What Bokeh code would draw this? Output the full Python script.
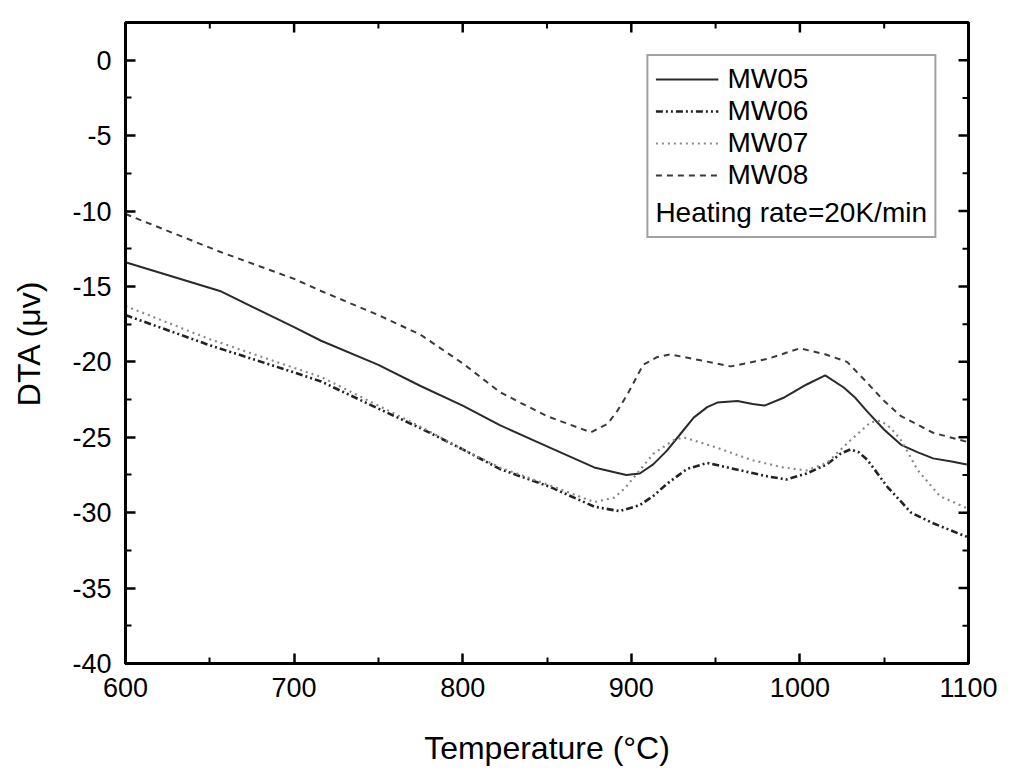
import math
from bokeh.plotting import figure
from bokeh.models import Range1d, FixedTicker, Legend, LegendItem, Label
from bokeh.embed import file_html
from bokeh.resources import INLINE

# ---- data ----
t05 = [600, 656, 700, 716, 750, 775, 800, 822, 852, 878, 897, 905, 913, 921, 929, 937, 945, 951, 963, 972, 979, 990, 1004, 1015, 1026, 1033, 1040, 1050, 1060, 1070, 1079, 1090, 1099]
v05 = [-13.4, -15.3, -17.7, -18.6, -20.2, -21.6, -22.9, -24.2, -25.7, -27.0, -27.5, -27.4, -26.8, -25.9, -24.8, -23.7, -23.0, -22.7, -22.6, -22.8, -22.9, -22.4, -21.5, -20.9, -21.7, -22.4, -23.3, -24.5, -25.5, -26.0, -26.4, -26.6, -26.8]

t06 = [600, 650, 700, 716, 750, 775, 800, 822, 852, 878, 893, 905, 913, 921, 933, 945, 961, 981, 992, 1004, 1016, 1024, 1030, 1035, 1040, 1052, 1066, 1079, 1099]
v06 = [-16.9, -18.9, -20.7, -21.3, -23.1, -24.4, -25.8, -27.1, -28.3, -29.6, -29.9, -29.5, -28.9, -28.1, -27.1, -26.7, -27.1, -27.6, -27.8, -27.4, -26.8, -26.1, -25.8, -26.0, -26.5, -28.3, -30.0, -30.7, -31.6]

t07 = [600, 650, 700, 716, 750, 775, 800, 822, 852, 878, 890, 896, 902, 913, 925, 931, 951, 971, 990, 1004, 1016, 1030, 1042, 1048, 1054, 1060, 1070, 1083, 1099]
v07 = [-16.3, -18.5, -20.4, -21.0, -22.9, -24.3, -25.8, -27.0, -28.2, -29.3, -29.0, -28.4, -27.6, -26.1, -25.2, -25.0, -25.7, -26.5, -27.0, -27.2, -26.7, -25.2, -24.0, -23.9, -24.4, -25.2, -27.2, -28.9, -29.7]

t08 = [600, 656, 700, 716, 750, 775, 800, 822, 834, 850, 876, 886, 892, 898, 907, 915, 923, 941, 959, 981, 1000, 1015, 1028, 1040, 1050, 1060, 1079, 1099]
v08 = [-10.2, -12.7, -14.5, -15.3, -16.9, -18.2, -20.1, -22.0, -22.7, -23.6, -24.67, -24.1, -23.2, -22.1, -20.2, -19.7, -19.5, -19.9, -20.3, -19.8, -19.1, -19.5, -20.0, -21.4, -22.6, -23.6, -24.7, -25.3]

names = ["MW05", "MW06", "MW07", "MW08"]
note = "Heating rate=20K/min"
x_lim = [600, 1100]
y_lim = [-40, 2.5]
x_ticks = [600, 700, 800, 900, 1000, 1100]
x_minor = [650, 750, 850, 950, 1050]
y_ticks = [-40, -35, -30, -25, -20, -15, -10, -5, 0]
y_minor = [-37.5, -32.5, -27.5, -22.5, -17.5, -12.5, -7.5, -2.5]

FONT = "Liberation Sans"

p = figure(width=1022, height=780, output_backend="svg", toolbar_location=None,
           x_range=Range1d(*x_lim), y_range=Range1d(*y_lim),
           min_border_left=125, min_border_right=54, min_border_top=22, min_border_bottom=117)
p.xgrid.visible = False
p.ygrid.visible = False
p.outline_line_color = "black"
p.outline_line_width = 3
p.background_fill_color = "white"
p.border_fill_color = "white"

def style_axis(ax, ticks, minor):
    ax.ticker = FixedTicker(ticks=ticks, minor_ticks=minor)
    ax.axis_line_color = "black"
    ax.axis_line_width = 3
    ax.major_tick_in = 10
    ax.major_tick_out = 0
    ax.minor_tick_in = 6
    ax.minor_tick_out = 0
    ax.major_tick_line_width = 2.5
    ax.minor_tick_line_width = 2
    ax.major_tick_line_color = "black"
    ax.minor_tick_line_color = "black"
    ax.major_label_text_font = FONT
    ax.major_label_text_font_size = "27px"
    ax.major_label_text_color = "black"
    ax.major_label_standoff = 14
    ax.major_label_overrides = {t: str(t) for t in ticks}
    ax.axis_label_text_font = FONT
    ax.axis_label_text_font_size = "32px"
    ax.axis_label_text_font_style = "normal"
    ax.axis_label_text_color = "black"

xa = p.xaxis[0]
ya = p.yaxis[0]
style_axis(xa, x_ticks, x_minor)
style_axis(ya, y_ticks, y_minor)
xa.axis_label = "Temperature (°C)"
ya.axis_label = "DTA (μv)"
xa.axis_label_standoff = 30
ya.axis_label_standoff = 22

# mirrored inward ticks on the top and right edges of the frame
p.ray(x=x_ticks, y=[y_lim[1]] * len(x_ticks), length=10, length_units="screen",
      angle=-math.pi / 2, line_color="black", line_width=2.5)
p.ray(x=x_minor, y=[y_lim[1]] * len(x_minor), length=6, length_units="screen",
      angle=-math.pi / 2, line_color="black", line_width=2)
p.ray(x=[x_lim[1]] * len(y_ticks), y=y_ticks, length=10, length_units="screen",
      angle=math.pi, line_color="black", line_width=2.5)
p.ray(x=[x_lim[1]] * len(y_minor), y=y_minor, length=6, length_units="screen",
      angle=math.pi, line_color="black", line_width=2)

r05 = p.line(t05, v05, line_color="#2a2a2a", line_width=2)
r06 = p.line(t06, v06, line_color="#222222", line_width=2.6, line_dash="7 3 2 3 2 3")
r07 = p.line(t07, v07, line_color="#8a8a8a", line_width=2.2, line_dash="2 4")
r08 = p.line(t08, v08, line_color="#3a3a3a", line_width=2, line_dash="6 5")

legend = Legend(items=[LegendItem(label=n, renderers=[r]) for n, r in zip(names, [r05, r06, r07, r08])])
legend.location = "top_right"
legend.margin = 32
legend.padding = 7
legend.spacing = 0
legend.glyph_width = 63
legend.label_standoff = 9
legend.label_text_font = FONT
legend.label_text_font_size = "28px"
legend.label_text_color = "black"
legend.border_line_color = "#444444"
legend.border_line_width = 2
legend.background_fill_alpha = 1
if "title_location" in Legend.properties():
    legend.title = note
    legend.title_location = "below"
    legend.title_text_font = FONT
    legend.title_text_font_size = "28px"
    legend.title_text_font_style = "normal"
    legend.title_text_color = "black"
    legend.title_standoff = 6
    p.add_layout(legend)
else:
    p.add_layout(legend)
    p.add_layout(Label(x=932, y=-10.3, text=note, text_font=FONT, text_font_size="28px",
                       text_baseline="middle"))

open("out.html", "w").write(file_html(p, INLINE))
